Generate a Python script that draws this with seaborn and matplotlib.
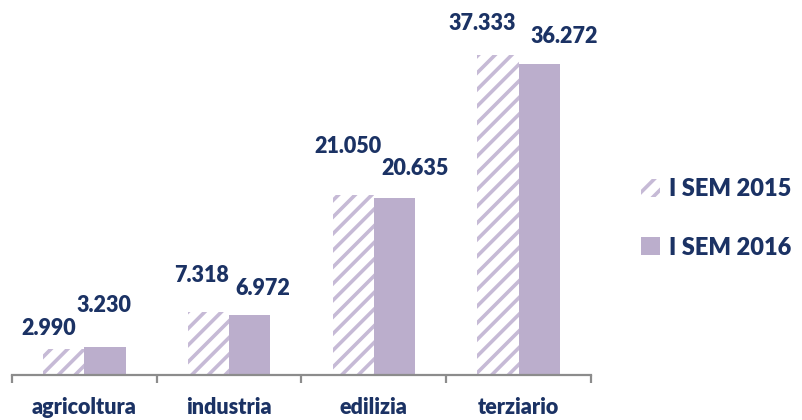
import pandas as pd
import matplotlib.pyplot as plt
import seaborn as sns

# data
settori = ['agricoltura', 'industria', 'edilizia', 'terziario']
sem_2015 = [2990, 7318, 21050, 37333]
sem_2016 = [3230, 6972, 20635, 36272]
serie = ['I SEM 2015', 'I SEM 2016']

# label offsets in pixels (dx, dy) from bar top, as in the original
off_2015 = [(-15, 21), (-7, 37), (-5, 48), (-16, 32)]
off_2016 = [(-1, 42), (13, 27), (21, 30), (25, 28)]

df = pd.DataFrame({
    'settore': settori * 2,
    'valore': sem_2015 + sem_2016,
    'serie': [serie[0]] * 4 + [serie[1]] * 4,
})

sns.set_theme(style='white')
plt.rcParams['font.family'] = ['Lato', 'DejaVu Sans']
plt.rcParams['hatch.linewidth'] = 2.6

navy = '#1b3264'
lilla = '#bbaecc'
hatch_col = '#c6bad6'

fig = plt.figure(figsize=(8.03, 4.2), dpi=100)
ax = fig.add_axes([12 / 803, 45 / 420, 579 / 803, 370 / 420])

sns.barplot(data=df, x='settore', y='valore', hue='serie', order=settori,
            hue_order=serie, palette=['white', lilla], saturation=1,
            width=0.57, legend=False, ax=ax)

for p in ax.containers[0]:
    p.set_edgecolor(hatch_col)
    p.set_linewidth(0)
    p.set_hatch('//')
for p in ax.containers[1]:
    p.set_linewidth(0)

# data labels (italian thousands separator)
for cont, vals, offs in zip(ax.containers, [sem_2015, sem_2016], [off_2015, off_2016]):
    for p, v, (dx, dy) in zip(cont, vals, offs):
        x = p.get_x() + p.get_width() / 2
        ax.annotate(f'{v:,}'.replace(',', '.'), (x, p.get_height()),
                    xytext=(dx, dy), textcoords='offset pixels',
                    ha='center', va='center', fontsize=15.5,
                    fontweight='heavy', color=navy)

ax.set_ylim(0, 43200)
ax.set_xlim(-0.5, 3.5)
ax.set_xlabel('')
ax.set_ylabel('')
ax.set_yticks([])
for s in ['left', 'right', 'top']:
    ax.spines[s].set_visible(False)
ax.spines['bottom'].set_color('#8c8c8c')
ax.spines['bottom'].set_linewidth(1.6)

ax.set_xticks(range(4))
ax.set_xticklabels(settori, fontsize=15.5, fontweight='heavy', color=navy)
ax.tick_params(axis='x', which='major', length=0, pad=16)
ax.set_xticks([-0.5, 0.5, 1.5, 2.5, 3.5], minor=True)
ax.tick_params(axis='x', which='minor', length=6, width=1.6,
               color='#8c8c8c', direction='out', bottom=True)

leg = ax.legend(ax.containers, serie, loc='upper left',
                bbox_to_anchor=(641 / 803, 1 - 178 / 420),
                bbox_transform=fig.transFigure, frameon=False,
                prop={'size': 17, 'weight': 'heavy'},
                handlelength=0.8, handleheight=0.8, handletextpad=0.4,
                labelspacing=1.55, borderpad=0, borderaxespad=0)
for t in leg.get_texts():
    t.set_color(navy)

fig.savefig('out.png', dpi=100)
